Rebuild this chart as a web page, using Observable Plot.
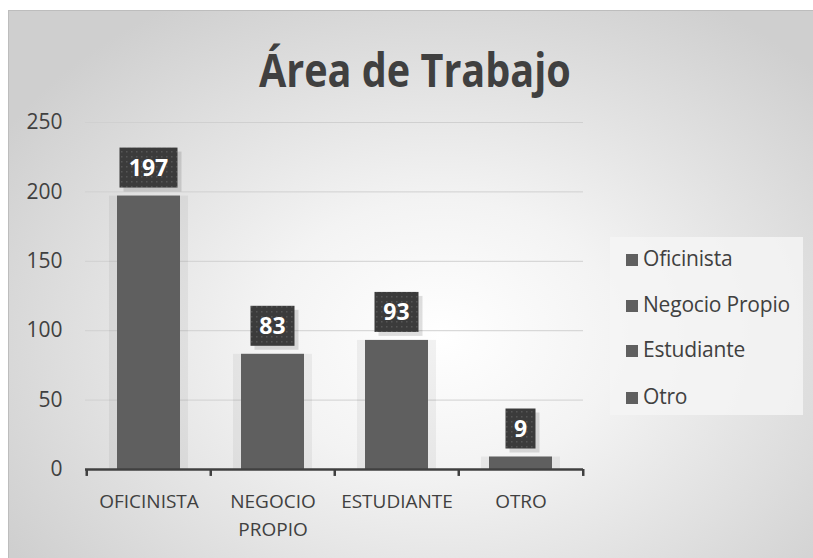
<!DOCTYPE html>
<html><head><meta charset="utf-8">
<script src="https://cdn.jsdelivr.net/npm/d3@7"></script>
<script src="https://cdn.jsdelivr.net/npm/@observablehq/plot@0.6"></script>
<style>
body{margin:0;background:#fff;}
#wrap{position:relative;width:813px;height:558px;overflow:hidden;font-family:"Open Sans",sans-serif;}
#frame{position:absolute;left:8px;top:10px;width:830px;height:570px;border:1px solid #bdbdbd;
 background:radial-gradient(ellipse 62% 68% at 52% 57%, #ffffff 0%, #f3f3f3 35%, #cfcfcf 100%);}
#title{position:absolute;left:0;width:830px;top:38px;text-align:center;font-size:46px;font-weight:bold;color:#404040;transform:scaleX(0.86);transform-origin:414px 0;}
#legend{position:absolute;left:610px;top:237px;width:193px;height:178px;background:rgba(244,244,244,0.85);}
.li{position:absolute;left:16px;font-size:21px;color:#404040;line-height:22px;white-space:nowrap;letter-spacing:-0.2px;}
.sw{display:inline-block;width:12px;height:12px;background:#5f5f5f;margin-right:5px;vertical-align:0px;}
#chart{position:absolute;left:0;top:0;}
</style></head>
<body>
<div id="wrap"><div id="frame"></div><div id="title"></div><div id="legend"></div><div id="chart"></div></div>
<script>
const title = "Área de Trabajo";
const categories = ["Oficinista", "Negocio Propio", "Estudiante", "Otro"];
const values = [197, 83, 93, 9];
const tickLabels = ["OFICINISTA", "NEGOCIO\nPROPIO", "ESTUDIANTE", "OTRO"];
const yTicks = [0, 50, 100, 150, 200, 250];

const FONT = '"Open Sans",sans-serif';
const BAR = "#5f5f5f";
const rows = categories.map((c, i) => ({cat: c, value: values[i], tick: tickLabels[i]}));

document.getElementById("title").textContent = title;
const legend = d3.select("#legend");
const legendY = [21, 67, 112, 159];
categories.forEach((c, i) => {
  const item = legend.append("div").attr("class", "li").style("top", (legendY[i] - 11) + "px");
  item.append("span").attr("class", "sw");
  item.append("span").text(c);
});

function labelBoxes(data) {
  return Plot.text(data, {
    x: "cat", y: "value", text: d => String(d.value),
    render(index, scales, vals, dims, context, next) {
      const sx = scales.x, sy = scales.y;
      const bw = typeof sx.bandwidth === "function" ? sx.bandwidth() : (sx.bandwidth || 0);
      const g = d3.create("svg:g");
      const pat = g.append("defs").append("pattern").attr("id", "dotpat")
        .attr("width", 5).attr("height", 5).attr("patternUnits", "userSpaceOnUse");
      pat.append("rect").attr("width", 5).attr("height", 5).attr("fill", "#3b3b3b");
      pat.append("rect").attr("x", 1).attr("y", 1).attr("width", 1.5).attr("height", 1.5).attr("fill", "#565656");
      for (const i of index) {
        const d = data[i];
        const s = String(d.value);
        const cx = sx(d.cat) + bw / 2;
        const bottom = sy(d.value) - 8;
        const w = 16 + 14 * s.length, h = 40;
        g.append("rect").attr("x", cx - w / 2 + 4).attr("y", bottom - h + 4).attr("width", w).attr("height", h)
          .attr("fill", "#000").attr("fill-opacity", 0.12);
        g.append("rect").attr("x", cx - w / 2).attr("y", bottom - h).attr("width", w).attr("height", h)
          .attr("fill", "url(#dotpat)");
        g.append("text").attr("x", cx).attr("y", bottom - h / 2).attr("dy", "0.36em")
          .attr("text-anchor", "middle").attr("fill", "#fff").attr("font-weight", "bold")
          .attr("font-size", 23).attr("font-family", FONT).text(s);
      }
      return g.node();
    }
  });
}

const plot = Plot.plot({
  width: 813, height: 558,
  marginLeft: 85, marginRight: 230, marginTop: 122, marginBottom: 89,
  style: {background: "transparent", fontFamily: FONT, color: "#404040"},
  x: {domain: categories, paddingInner: 0.494, paddingOuter: 0.247, axis: null},
  y: {domain: [0, 250], axis: null},
  marks: [
    Plot.gridY(yTicks, {stroke: "#d0d0d0", strokeOpacity: 1, strokeWidth: 1}),
    Plot.axisY(yTicks, {tickSize: 0, tickPadding: 23, fontSize: 21, fill: "#404040", label: null, tickFormat: d => String(d)}),
    Plot.barY(rows, {x: "cat", y: "value", fill: "#000", fillOpacity: 0.05, insetLeft: -8, insetRight: -8}),
    Plot.barY(rows, {x: "cat", y: "value", fill: BAR}),
    Plot.ruleY([0], {stroke: "#404040", strokeWidth: 2.5}),
    Plot.ruleX(rows, {x: "cat", y1: 0, y2: -5, dx: -62.25, stroke: "#404040", strokeWidth: 2.5}),
    Plot.ruleX([rows[rows.length - 1]], {x: "cat", y1: 0, y2: -5, dx: 62.25, stroke: "#404040", strokeWidth: 2.5}),
    Plot.text(rows, {x: "cat", y: 0, text: "tick", dy: 19, lineAnchor: "top", lineHeight: 1.45, fontSize: 19, fill: "#404040"}),
    labelBoxes(rows)
  ]
});
document.getElementById("chart").appendChild(plot);
</script>
</body></html>
